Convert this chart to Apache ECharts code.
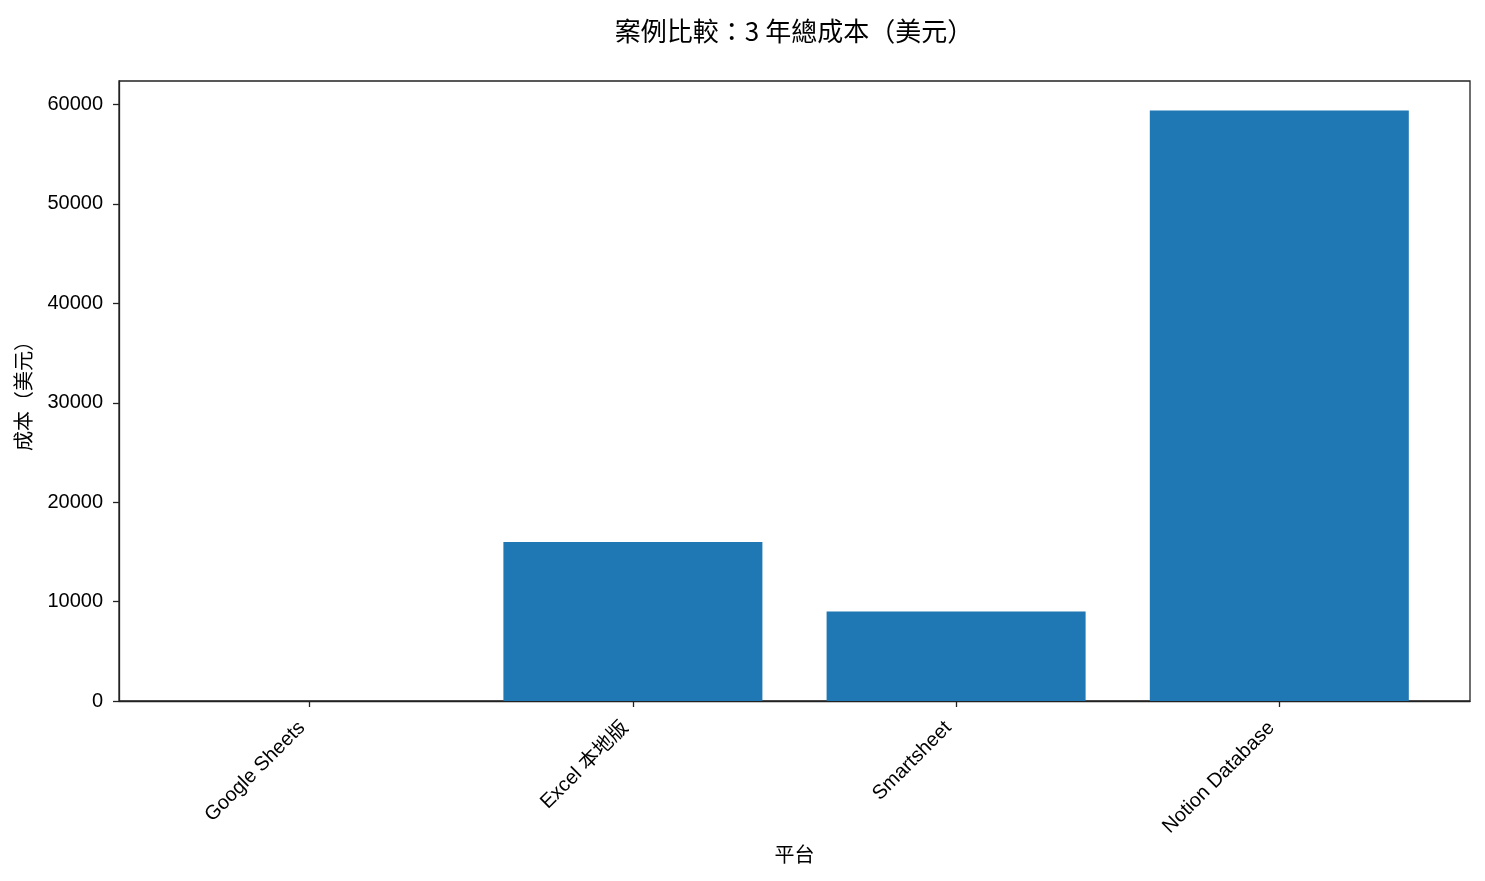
<!DOCTYPE html>
<html>
<head>
<meta charset="utf-8">
<script src="https://cdn.jsdelivr.net/npm/echarts@6/dist/echarts.min.js"></script>
<style>
  html, body { margin: 0; padding: 0; background: #fff; }
  #chart { width: 1485px; height: 881px; }
</style>
</head>
<body>
<div id="chart"></div>
<script>
// 数据
var platforms = ['Google Sheets', 'Excel 本地版', 'Smartsheet', 'Notion Database'];
var costs = [0, 16000, 9000, 59400];
var yTicks = [0, 10000, 20000, 30000, 40000, 50000, 60000];

var fontFamily = '"Liberation Sans", Arial, "Noto Sans CJK TC", sans-serif';

// bar 放在 0..3 的位置上，方便控制边距
var barData = [];
costs.forEach(function(val, key) {
  barData.push([key, val]);
});
var xTicks = [];
platforms.forEach(function(val, key) {
  xTicks.push(key);
});

var chart = echarts.init(document.getElementById('chart'));
chart.setOption({
  animation: false,
  // 标题居中在绘图区上方，不是画布中心
  graphic: [{
    type: 'text',
    x: 794,
    y: 31,
    style: {
      text: '案例比較：3 年總成本（美元）',
      fontFamily: '"Noto Sans CJK TC", sans-serif',
      fontSize: 26,
      fill: '#000',
      textAlign: 'center',
      textVerticalAlign: 'middle'
    }
  }],
  grid: {
    left: 119,
    right: 15,
    top: 81,
    bottom: 180,
    show: true,
    borderColor: '#222',
    borderWidth: 1.3
  },
  xAxis: {
    type: 'value',
    min: -0.59,
    max: 3.59,
    name: '平台',
    nameLocation: 'middle',
    nameGap: 145,
    nameTextStyle: { fontFamily: fontFamily, fontSize: 20, color: '#000' },
    splitLine: { show: false },
    axisLine: { show: true, onZero: false, lineStyle: { color: '#222', width: 1.3 } },
    axisTick: { show: true, length: 6, customValues: xTicks, lineStyle: { color: '#222', width: 1.3 } },
    axisLabel: {
      customValues: xTicks,
      rotate: 45,
      margin: 16,
      padding: [0, 11, 0, 0],
      fontFamily: fontFamily,
      fontSize: 20,
      color: '#000',
      formatter: function(v) {
        return platforms[Math.round(v)];
      }
    }
  },
  yAxis: {
    type: 'value',
    min: 0,
    max: 62370,
    name: '成本（美元）',
    nameLocation: 'middle',
    nameGap: 84,
    nameRotate: 90,
    nameTextStyle: { fontFamily: fontFamily, fontSize: 20, color: '#000' },
    splitLine: { show: false },
    axisLine: { show: true, onZero: false, lineStyle: { color: '#222', width: 1.3 } },
    axisTick: { show: true, length: 6, customValues: yTicks, lineStyle: { color: '#222', width: 1.3 } },
    axisLabel: {
      customValues: yTicks,
      margin: 16,
      fontFamily: fontFamily,
      fontSize: 20,
      color: '#000',
      formatter: function(v) {
        return String(v);
      }
    }
  },
  series: [{
    name: '成本',
    type: 'bar',
    barWidth: 259,
    data: barData,
    itemStyle: { color: '#1f77b4' }
  }]
});
</script>
</body>
</html>
